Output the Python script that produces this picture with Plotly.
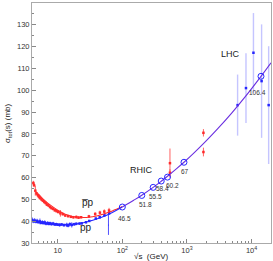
import math
import plotly.graph_objects as go

# ---- data ----
pp_s = [4.0, 4.2, 4.4, 4.6, 4.8, 5.0, 5.3, 5.5, 5.8, 6.0, 6.3, 6.6, 7.0, 7.3, 7.6, 8.0, 8.5, 9.0,
        9.5, 10.0, 10.7, 11.5, 12.5, 13.8, 14.5, 15.4, 16.5, 18.0, 19.4, 21.7, 23.5, 27.4, 30.7,
        38.8, 44.7, 52.8, 62.5]
pp_sig = [40.6, 40.0, 40.3, 39.8, 40.1, 39.6, 39.9, 39.3, 39.5, 39.2, 39.4, 38.9, 39.1, 38.8, 39.0,
          38.7, 38.9, 38.5, 38.6, 38.4, 38.3, 38.5, 38.2, 38.3, 38.0, 38.6, 38.3, 38.6, 38.8, 38.9,
          39.0, 39.5, 40.1, 41.2, 41.8, 42.7, 43.6]
pp_err = [1.2, 0.9, 1.1, 0.8, 1.0, 0.7, 1.3, 0.8, 0.9, 0.7, 1.0, 0.8, 0.9, 0.7, 0.8, 0.7, 0.8, 0.6,
          0.7, 0.6, 0.8, 0.6, 0.7, 1.0, 0.8, 0.9, 1.2, 0.7, 0.6, 0.5, 0.4, 0.4, 0.4, 0.5, 0.5, 0.6, 0.7]

pp_extra_s = [61.0]
pp_extra_sig = [38.3]
pp_extra_err = [4.6]

pb_s = [4.2, 4.3, 4.5, 4.7, 4.9, 5.1, 5.3, 5.6, 5.9, 6.2, 6.5, 6.8, 7.2, 7.6, 8.0, 8.5, 9.0, 9.6,
        10.2, 11.0, 12.0, 13.1, 14.5, 16.0, 17.5, 19.4, 21.0, 23.0, 30.4, 38.0, 45.0, 52.6, 62.3]
pb_sig = [57.5, 56.5, 54.0, 52.8, 52.0, 51.3, 50.6, 50.0, 49.4, 48.8, 48.3, 47.6, 47.2, 46.5, 46.0,
          45.6, 45.0, 44.6, 44.2, 43.6, 43.2, 42.6, 42.3, 42.0, 41.8, 41.9, 41.6, 41.8, 42.2, 43.3,
          43.9, 44.4, 44.9]
pb_err = [1.0, 0.9, 2.3, 0.8, 0.9, 0.8, 0.7, 0.8, 0.7, 0.7, 0.6, 0.7, 0.6, 0.6, 0.6, 0.5, 0.6, 0.5,
          0.5, 1.5, 0.5, 0.6, 0.5, 0.5, 0.6, 0.7, 0.6, 0.5, 0.7, 0.8, 0.9, 1.0, 1.2]

tev_s = [546, 546, 1800, 1800]
tev_sig = [66.6, 62.2, 80.5, 71.7]
tev_err = [6.7, 1.6, 1.7, 2.0]

lhc_s = [6080, 8200, 10700, 14300, 18400]
lhc_sig = [93.2, 101.0, 117.2, 104.2, 93.2]
lhc_err = [14.0, 16.0, 18.2, 26.0, 27.0]

fit_s = [4, 5, 6, 7, 8, 10, 12, 13, 15, 16, 20, 25, 30, 40, 50, 70, 100, 150, 200, 300, 400, 500,
         700, 900, 1300, 2000, 3000, 5000, 8000, 14000, 20000]
fit_pp = [40.4, 39.7, 39.2, 38.9, 38.7, 38.5, 38.4, 38.4, 38.4, 38.5, 38.8, 39.3, 39.9, 41.0, 42.0,
          44.0, 46.5, 49.6, 51.9, 55.5, 58.3, 60.6, 64.2, 67.0, 71.4, 76.9, 82.4, 89.8, 97.1,
          106.4, 112.6]
fit_pb = [None, 52.5, 50.0, 48.3, 47.0, 45.0, 43.7, 43.2, 42.6, 42.3, 41.9, 41.7, 41.8, 42.4, 43.2,
          44.7, 46.7, 49.6, 51.9, 55.5, 58.3, 60.6, 64.2, 67.0, 71.4, 76.9, 82.4, 89.8, 97.1,
          106.4, 112.6]

rhic_s = [100, 200, 300, 400, 500, 900, 14000]
rhic_sig = [46.5, 51.8, 55.5, 58.4, 60.2, 67, 106.4]
rhic_lbl = ["46.5", "51.8", "55.5", "58.4", "60.2", "67", "106.4"]

x_tickvals = [10, 100, 1000, 10000]
x_ticktext = ["10", "10<sup>2</sup>", "10<sup>3</sup>", "10<sup>4</sup>"]
y_tickvals = [30, 40, 50, 60, 70, 80, 90, 100, 110, 120, 130, 140]

RED = "#ff2a2a"
BLUE = "#2626ff"
PURPLE = "#6a2ee0"
FONT = "Liberation Sans, Arial, sans-serif"

fig = go.Figure()

# LHC / cosmic data with light error bars
fig.add_trace(go.Scatter(x=lhc_s, y=lhc_sig, mode="markers",
                         marker=dict(color=BLUE, size=2.5, symbol="square"),
                         error_y=dict(type="data", array=lhc_err, color="rgba(150,150,255,0.55)",
                                      thickness=1.4, width=0)))
# Tevatron pbar-p
fig.add_trace(go.Scatter(x=tev_s, y=tev_sig, mode="markers",
                         marker=dict(color=RED, size=2.5, symbol="square"),
                         error_y=dict(type="data", array=tev_err, color="rgba(255,60,60,0.8)",
                                      thickness=1.0, width=0)))
# low energy pbar-p
fig.add_trace(go.Scatter(x=pb_s, y=pb_sig, mode="markers",
                         marker=dict(color=RED, size=2.5, symbol="square"),
                         error_y=dict(type="data", array=pb_err, color=RED, thickness=0.8, width=0)))
# low energy pp
fig.add_trace(go.Scatter(x=pp_s, y=pp_sig, mode="markers",
                         marker=dict(color=BLUE, size=2.5, symbol="square"),
                         error_y=dict(type="data", array=pp_err, color=BLUE, thickness=0.8, width=0)))
fig.add_trace(go.Scatter(x=pp_extra_s, y=pp_extra_sig, mode="markers",
                         marker=dict(color=BLUE, size=1),
                         error_y=dict(type="data", array=pp_extra_err, color=BLUE, thickness=0.8,
                                      width=0)))

# fit curves: separate branches below 100 GeV, merged (purple) above
split = fit_s.index(100)
fig.add_trace(go.Scatter(x=fit_s[1:split + 1], y=fit_pb[1:split + 1], mode="lines",
                         line=dict(color=RED, width=1.1, shape="spline")))
fig.add_trace(go.Scatter(x=fit_s[:split + 1], y=fit_pp[:split + 1], mode="lines",
                         line=dict(color=BLUE, width=1.1, shape="spline")))
fig.add_trace(go.Scatter(x=fit_s[split:], y=fit_pp[split:], mode="lines",
                         line=dict(color=PURPLE, width=1.1, shape="spline")))

# RHIC / LHC open circles
fig.add_trace(go.Scatter(x=rhic_s, y=rhic_sig, mode="markers",
                         marker=dict(symbol="circle-open", size=6, color=BLUE,
                                     line=dict(width=1.0, color=BLUE))))

# label offsets in pixels (dx right, dy down) relative to each circle
lbl_dx = [2, 4, 2, 1, 5, 1, -3]
lbl_dy = [11, 9, 9, 7, 8, 9, 16]
for xs, ys, t, dx, dy in zip(rhic_s, rhic_sig, rhic_lbl, lbl_dx, lbl_dy):
    fig.add_annotation(x=math.log10(xs), y=ys, xref="x", yref="y", text=t, showarrow=False,
                       xanchor="center", yanchor="middle", xshift=dx, yshift=-dy,
                       font=dict(size=6.5, color="#333333", family=FONT))

fig.add_annotation(x=0.877, y=0.818, xref="paper", yref="paper", text="LHC", showarrow=False,
                   font=dict(size=9, color="#222222", family=FONT))
fig.add_annotation(x=0.46, y=0.275, xref="paper", yref="paper", text="RHIC", showarrow=False,
                   font=dict(size=9, color="#222222", family=FONT))
fig.add_annotation(x=0.2, y=0.138, xref="paper", yref="paper",
                   text="p\u0305p", showarrow=False,
                   font=dict(size=10, color="#222222", family=FONT))
fig.add_annotation(x=0.192, y=0.035, xref="paper", yref="paper", text="pp", showarrow=False,
                   font=dict(size=10, color="#222222", family=FONT))

fig.update_layout(
    width=273, height=261,
    margin=dict(l=32, r=2, t=3, b=18, autoexpand=False),
    paper_bgcolor="white", plot_bgcolor="white",
    showlegend=False,
    font=dict(family=FONT, size=7.5, color="#333333"),
    xaxis=dict(type="log", range=[0.602, 4.301], tickvals=x_tickvals, ticktext=x_ticktext,
               automargin=False,
               ticks="inside", ticklen=4, tickcolor="#888888", showgrid=False, zeroline=False,
               showline=True, linecolor="#aaaaaa", linewidth=1, mirror=True,
               tickfont=dict(size=7.5, color="#333333"),
               minor=dict(ticks="inside", ticklen=2, tickcolor="#888888",
                          tickvals=[5, 6, 7, 8, 9, 20, 30, 40, 50, 60, 70, 80, 90, 200, 300, 400,
                                    500, 600, 700, 800, 900, 2000, 3000, 4000, 5000, 6000, 7000,
                                    8000, 9000])),
    yaxis=dict(range=[30, 140], tickvals=y_tickvals, ticks="inside", ticklen=4,
               automargin=False,
               tickcolor="#888888", showgrid=False, zeroline=False,
               showline=True, linecolor="#aaaaaa", linewidth=1, mirror=True,
               tickfont=dict(size=7.5, color="#333333"),
               minor=dict(ticks="inside", ticklen=2, tickcolor="#888888", dtick=5)),
)

fig.add_annotation(x=0.5, y=0, xref="paper", yref="paper", yshift=-13, text="\u221As  (GeV)",
                   showarrow=False, yanchor="middle",
                   font=dict(size=8, color="#222222", family=FONT))
fig.add_annotation(x=0, y=0.5, xref="paper", yref="paper", xshift=-24,
                   text="\u03c3<sub>tot</sub>(s) (mb)", showarrow=False, textangle=-90,
                   xanchor="center", font=dict(size=8, color="#222222", family=FONT))

fig.write_html("out.html", config={"displayModeBar": False},
               post_script="document.body.style.margin='0';document.body.style.padding='0';"
                           "document.documentElement.style.overflow='hidden';")
